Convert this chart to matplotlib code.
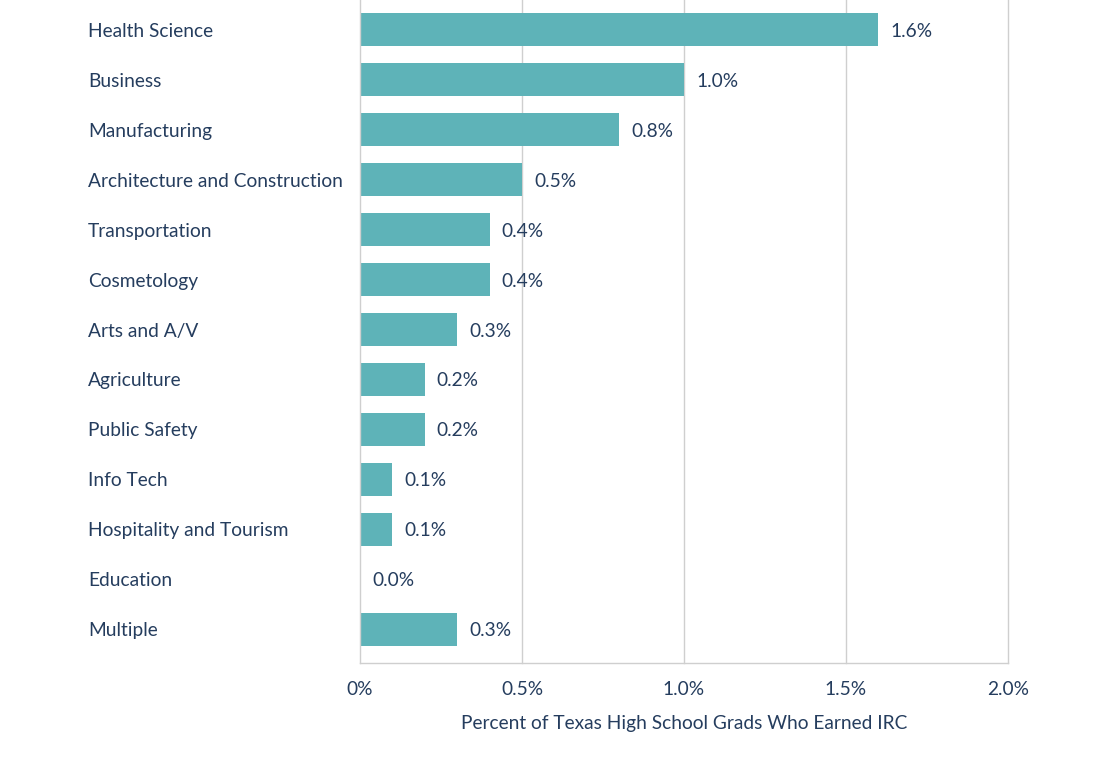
import matplotlib
matplotlib.use("Agg")
import matplotlib.pyplot as plt

categories = ["Health Science", "Business", "Manufacturing", "Architecture and Construction",
              "Transportation", "Cosmetology", "Arts and A/V", "Agriculture", "Public Safety",
              "Info Tech", "Hospitality and Tourism", "Education", "Multiple"]
values = [1.6, 1.0, 0.8, 0.5, 0.4, 0.4, 0.3, 0.2, 0.2, 0.1, 0.1, 0.0, 0.3]
xticks = [0, 0.5, 1.0, 1.5, 2.0]
xtick_labels = ["0%", "0.5%", "1.0%", "1.5%", "2.0%"]

plt.rcParams['font.family'] = ['Lato', 'DejaVu Sans']
text_color = "#253d5e"
bar_color = "#5eb3b8"
grid_color = "#cfcfcf"
fs = 13.8

fig = plt.figure(figsize=(11.2, 7.77), dpi=100)
ax = fig.add_axes([360/1120, 1 - 663/777, (1008-360)/1120, 663/777])

y = list(range(len(categories)))
ax.barh(y, values, height=0.66, color=bar_color, zorder=2)
ax.set_ylim(12.68, -0.6)
ax.set_xlim(0, 2.0)
ax.set_xticks(xticks)
ax.set_xticklabels(xtick_labels)
ax.set_yticks([])
for xv in xticks[1:]:
    ax.axvline(xv, color=grid_color, linewidth=1, zorder=0, clip_on=False)
for s in ["top", "right"]:
    ax.spines[s].set_visible(False)
for s in ["left", "bottom"]:
    ax.spines[s].set_color(grid_color)
    ax.spines[s].set_linewidth(1)
ax.tick_params(axis='x', length=0, pad=13, labelsize=fs, labelcolor=text_color)

for i, (c, v) in enumerate(zip(categories, values)):
    ax.annotate(c, xy=(88/1120, i), xycoords=('figure fraction', 'data'),
                xytext=(0, -1.5), textcoords='offset pixels', fontsize=fs,
                color=text_color, va='center', ha='left', annotation_clip=False)
    ax.annotate(f"{v:.1f}%", xy=(v, i), xytext=(12, -1.5), textcoords='offset pixels',
                fontsize=fs, color=text_color, va='center', ha='left', annotation_clip=False)

ax.set_xlabel("Percent of Texas High School Grads Who Earned IRC", fontsize=fs,
              color=text_color, labelpad=12)

fig.savefig("out.png", dpi=100)
